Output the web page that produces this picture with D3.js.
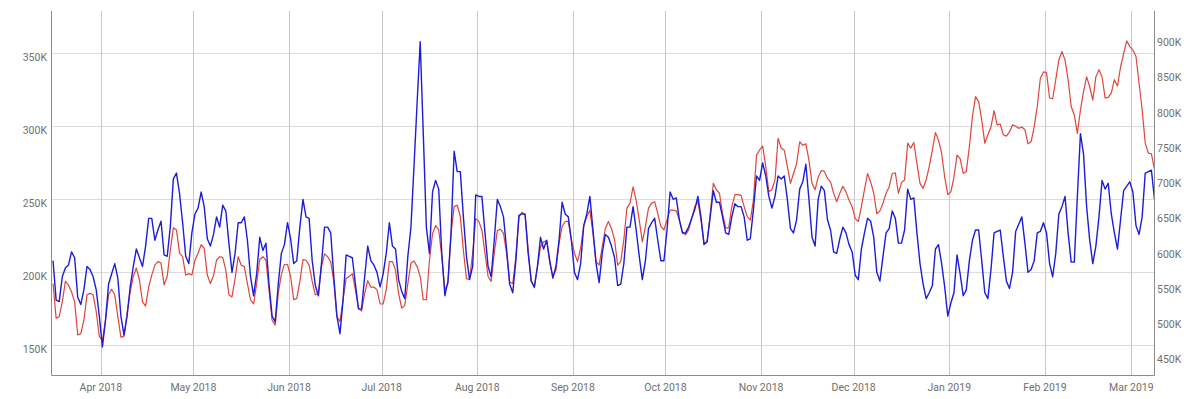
<!DOCTYPE html>
<html>
<head>
<meta charset="utf-8">
<script src="https://cdn.jsdelivr.net/npm/d3@7"></script>
<style>
  html, body { margin: 0; padding: 0; background: #fff; }
  svg { display: block; }
  .axis-label { font-family: Roboto, Arial, sans-serif; font-size: 10.5px; fill: #6f6f6f; }
</style>
</head>
<body>
<svg id="chart" width="1200" height="399"></svg>
<script>
// one value per day, starting on this date (values in thousands)
const firstDay = new Date(2018, 2, 16, 12);
const lastDay = new Date(2019, 2, 8, 12);

// blue series, left axis
const blueDaily = [
  208, 181, 180, 197, 203, 205, 214, 210, 183, 178,
  188, 204, 202, 197, 188, 170, 149, 167, 192, 199,
  206, 196, 170, 157, 170, 190, 204, 216, 210, 204,
  218, 237, 237, 222, 229, 235, 212, 211, 231, 264,
  268, 254, 234, 211, 206, 227, 240, 244, 255, 245,
  223, 218, 226, 238, 231, 246, 242, 220, 200, 213,
  234, 234, 238, 222, 197, 184, 199, 224, 215, 220,
  192, 170, 166, 192, 213, 219, 234, 223, 206, 208,
  231, 250, 238, 237, 208, 191, 184, 206, 231, 231,
  227, 197, 170, 158, 181, 212, 211, 210, 192, 175,
  175, 197, 218, 208, 205, 200, 190, 199, 213, 234,
  218, 216, 195, 187, 182, 211, 231, 273, 316, 358,
  295, 231, 213, 255, 263, 257, 213, 184, 194, 227,
  283, 269, 269, 238, 211, 195, 204, 253, 252, 252,
  227, 204, 197, 222, 250, 245, 238, 216, 192, 186,
  208, 239, 240, 240, 213, 194, 190, 204, 224, 216,
  222, 208, 196, 204, 222, 248, 240, 238, 222, 200,
  195, 206, 232, 240, 252, 229, 206, 193, 213, 226,
  224, 218, 210, 191, 192, 206, 231, 231, 245, 229,
  211, 195, 208, 230, 234, 237, 222, 208, 208, 229,
  255, 250, 251, 236, 227, 227, 231, 237, 243, 252,
  238, 219, 221, 238, 256, 248, 248, 238, 227, 226,
  238, 247, 245, 245, 238, 222, 223, 243, 266, 263,
  275, 266, 252, 244, 252, 266, 264, 266, 250, 230,
  227, 236, 257, 262, 274, 250, 224, 218, 250, 259,
  256, 236, 229, 214, 213, 223, 231, 227, 219, 214,
  198, 195, 216, 227, 237, 235, 224, 200, 194, 211,
  227, 230, 242, 237, 220, 220, 229, 257, 250, 251,
  227, 206, 192, 182, 186, 191, 216, 219, 206, 190,
  170, 179, 186, 212, 199, 184, 188, 208, 222, 229,
  229, 208, 186, 182, 202, 227, 228, 229, 211, 194,
  189, 200, 228, 233, 238, 220, 200, 202, 208, 227,
  228, 234, 227, 206, 197, 213, 240, 245, 252, 227,
  207, 207, 252, 295, 281, 245, 222, 206, 218, 238,
  263, 257, 261, 240, 227, 216, 236, 256, 259, 262,
  255, 232, 226, 238, 268, 269, 270, 250
];

// red series, right axis
const redDaily = [
  558, 509, 511, 532, 561, 556, 546, 532, 485, 487,
  506, 542, 544, 542, 518, 483, 477, 506, 542, 550,
  542, 511, 482, 483, 516, 546, 568, 580, 563, 532,
  526, 553, 570, 584, 589, 587, 556, 568, 605, 637,
  634, 601, 596, 570, 572, 570, 591, 601, 613, 608,
  570, 558, 569, 591, 596, 595, 577, 542, 539, 565,
  596, 584, 582, 558, 535, 529, 558, 592, 596, 591,
  549, 506, 499, 544, 571, 585, 585, 568, 535, 537,
  561, 592, 591, 584, 561, 542, 544, 582, 600, 596,
  589, 561, 511, 504, 535, 565, 568, 572, 549, 523,
  519, 544, 562, 553, 553, 549, 529, 529, 549, 589,
  589, 577, 544, 523, 527, 558, 587, 590, 582, 568,
  535, 535, 591, 629, 640, 634, 596, 549, 558, 629,
  667, 669, 653, 605, 565, 564, 601, 650, 646, 634,
  601, 568, 561, 601, 633, 635, 629, 601, 560, 558,
  596, 652, 659, 655, 605, 561, 552, 582, 610, 617,
  619, 587, 568, 577, 615, 639, 646, 646, 620, 601,
  589, 608, 639, 653, 662, 629, 589, 584, 610, 636,
  646, 636, 620, 584, 589, 620, 665, 672, 695, 676,
  648, 617, 639, 665, 672, 674, 657, 639, 634, 648,
  662, 662, 661, 648, 631, 627, 634, 650, 667, 674,
  648, 615, 617, 657, 700, 691, 686, 657, 637, 637,
  667, 684, 684, 683, 667, 653, 648, 676, 740, 747,
  753, 724, 688, 691, 705, 764, 750, 747, 724, 700,
  714, 728, 759, 754, 756, 733, 700, 691, 709, 718,
  717, 707, 702, 686, 674, 686, 696, 688, 676, 667,
  650, 646, 667, 691, 714, 702, 686, 657, 661, 672,
  686, 695, 714, 715, 686, 701, 705, 757, 750, 758,
  728, 700, 693, 705, 724, 747, 772, 761, 743, 709,
  684, 688, 709, 740, 735, 714, 717, 752, 795, 823,
  816, 790, 757, 769, 780, 803, 783, 784, 769, 767,
  773, 783, 781, 778, 780, 776, 756, 759, 780, 809,
  849, 858, 857, 821, 820, 847, 875, 887, 875, 847,
  809, 797, 771, 804, 830, 851, 837, 818, 851, 861,
  851, 821, 822, 828, 847, 838, 865, 884, 902, 894,
  889, 880, 842, 804, 757, 743, 742, 719
];

const leftTicks = [150, 200, 250, 300, 350];
const rightTicks = [450, 500, 550, 600, 650, 700, 750, 800, 850, 900];

const plot = { left: 51.5, right: 1154.5, top: 11, bottom: 375.5 };

const dayOf = (i) => d3.timeDay.offset(firstDay, i);

const xScale = d3
  .scaleTime()
  .domain([d3.timeHour.offset(firstDay, -12), lastDay])
  .range([plot.left, plot.right]);

const yLeft = d3.scaleLinear().domain([129.7, 379]).range([375, 11]);
const yRight = d3.scaleLinear().domain([428.3, 944.4]).range([375, 11]);

const svg = d3.select('#chart');

// horizontal gridlines (left axis ticks)
svg
  .append('g')
  .selectAll('line')
  .data(leftTicks)
  .join('line')
  .attr('x1', plot.left)
  .attr('x2', plot.right)
  .attr('y1', (d) => Math.round(yLeft(d)) + 0.5)
  .attr('y2', (d) => Math.round(yLeft(d)) + 0.5)
  .attr('stroke', '#dcdcdc');

// vertical gridlines at month starts
const months = xScale.ticks(d3.timeMonth.every(1));
svg
  .append('g')
  .selectAll('line')
  .data(months)
  .join('line')
  .attr('x1', (d) => Math.round(xScale(d)) + 0.5)
  .attr('x2', (d) => Math.round(xScale(d)) + 0.5)
  .attr('y1', plot.top)
  .attr('y2', plot.bottom)
  .attr('stroke', '#c8c8c8');

// series lines
const redLine = d3
  .line()
  .x((d, i) => xScale(dayOf(i)))
  .y((d) => yRight(d));

const blueLine = d3
  .line()
  .x((d, i) => xScale(dayOf(i)))
  .y((d) => yLeft(d));

svg
  .append('path')
  .datum(redDaily)
  .attr('d', redLine)
  .attr('fill', 'none')
  .attr('stroke', '#e0443a')
  .attr('stroke-width', 1.2)
  .attr('stroke-linejoin', 'round');

svg
  .append('path')
  .datum(blueDaily)
  .attr('d', blueLine)
  .attr('fill', 'none')
  .attr('stroke', '#1c1cd9')
  .attr('stroke-width', 1.4)
  .attr('stroke-linejoin', 'round');

// axis frame: left, bottom, right
const frame = svg.append('g').attr('stroke', '#8c8c8c');
frame.append('line').attr('x1', plot.left).attr('x2', plot.left).attr('y1', plot.top).attr('y2', plot.bottom);
frame.append('line').attr('x1', plot.right).attr('x2', plot.right).attr('y1', plot.top).attr('y2', plot.bottom);
frame.append('line').attr('x1', plot.left).attr('x2', plot.right).attr('y1', plot.bottom).attr('y2', plot.bottom);

// left labels hang just under their gridline
svg
  .append('g')
  .selectAll('text')
  .data(leftTicks)
  .join('text')
  .attr('class', 'axis-label')
  .attr('x', 47)
  .attr('y', (d) => yLeft(d) + 8)
  .attr('text-anchor', 'end')
  .text((d) => `${d}K`);

// right labels
svg
  .append('g')
  .selectAll('text')
  .data(rightTicks)
  .join('text')
  .attr('class', 'axis-label')
  .attr('x', 1157)
  .attr('y', (d) => yRight(d) + 3.8)
  .attr('text-anchor', 'start')
  .text((d) => `${d}K`);

// month labels
svg
  .append('g')
  .selectAll('text')
  .data(months)
  .join('text')
  .attr('class', 'axis-label')
  .attr('x', (d) => xScale(d))
  .attr('y', 390.5)
  .attr('text-anchor', 'middle')
  .text(d3.timeFormat('%b %Y'));
</script>
</body>
</html>
